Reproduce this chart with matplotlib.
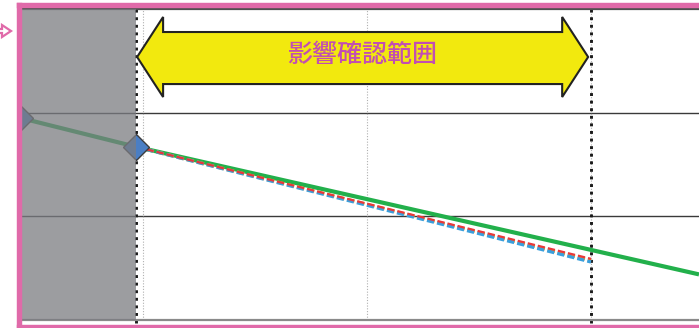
import matplotlib
matplotlib.use("Agg")
import matplotlib.pyplot as plt
from matplotlib.patches import Polygon
from matplotlib.lines import Line2D

plt.rcParams['font.family'] = ['Noto Sans CJK JP', 'DejaVu Sans']

# Timeline markers (x units)
x_left = 4.5
x_now = 9.7
x_end = 30.0
x_right = 34.82

# Baseline trend: two measured points, then the projection
base_x = [4.5, 9.7, 34.82]
base_y = [1.95, 1.67, 0.44]

# Scenario projections over the checked range
case_x = [9.7, 30.0]
case_red = [1.67, 0.59]
case_orange = [1.67, 0.575]
case_blue = [1.67, 0.56]

grid_x = [10, 20, 30]
grid_y = [1, 2]
range_label = "影響確認範囲"

W, H = 699, 328
fig = plt.figure(figsize=(W / 100, H / 100), dpi=100)
fig.patch.set_facecolor("white")

ax = fig.add_axes([20 / W, (H - 320) / H, (W - 20) / W, (320 - 9) / H])
ax.set_xlim(x_left, x_right)
ax.set_ylim(0, 3)
ax.set_xticks([])
ax.set_yticks([])
for side in ("left", "right"):
    ax.spines[side].set_visible(False)
ax.spines["top"].set_color("#505050")
ax.spines["top"].set_linewidth(1.6)
ax.spines["bottom"].set_color("#8a8a8a")
ax.spines["bottom"].set_linewidth(1.6)

# grid
for gy in grid_y:
    ax.axhline(gy, color="#3a3a3a", lw=1.0, zorder=1)
for gx in grid_x:
    ax.axvline(gx, color="#b0b0b0", lw=0.8, ls=(0, (1, 1.5)), zorder=1)

# range boundaries (under the data marks)
for bx in (x_now, x_end):
    ax.plot([bx, bx], [-0.03, 3.0], color="#1a1a1a", lw=2.1,
            ls=(0, (1, 1.6)), clip_on=False, zorder=2)

# projection lines
ax.plot(base_x, base_y, color="#22b04b", lw=3.0, solid_capstyle="butt", zorder=3)
ax.plot(case_x, case_orange, color="#f3a51c", lw=2.4, ls=(3.0, (2.2, 0.9)), zorder=3.1)
ax.plot(case_x, case_blue, color="#3a9fdc", lw=2.4, ls=(0, (2.2, 0.9)), zorder=3.2)
ax.plot(case_x, case_red, color="#e8383a", lw=1.6, ls=(0, (3.3, 1.35)), zorder=3.3)
ax.plot(base_x[:2], base_y[:2], ls="none", marker="D", ms=13,
        mfc="#4a7ec4", mec="#3c3c3c", mew=1.0, zorder=3.5)

# past period shading
ax.axvspan(x_left, x_now, color="#7b7c81", alpha=0.75, lw=0, zorder=4)

# double-headed range arrow
tip_y, body_top, body_bot, head_top, head_bot = 2.537, 2.778, 2.276, 2.923, 2.151
head_len = 1.16
xa, xb = x_now + 0.03, x_end - 0.13
arrow = Polygon([
    (xa, tip_y), (xa + head_len, head_top), (xa + head_len, body_top),
    (xb - head_len, body_top), (xb - head_len, head_top), (xb, tip_y),
    (xb - head_len, head_bot), (xb - head_len, body_bot),
    (xa + head_len, body_bot), (xa + head_len, head_bot)],
    closed=True, facecolor="#f2e90e", edgecolor="#222222", lw=1.5,
    joinstyle="miter", zorder=6)
ax.add_patch(arrow)
ax.text((xa + xb) / 2, tip_y + 0.02, range_label, color="#c24fb2",
        fontsize=18, fontweight="medium", ha="center", va="center", zorder=7)

# outer pink frame
pink = "#e06aa9"
fx = lambda p: p / W
fy = lambda p: 1 - p / H
for xs, ys in (([18.5, 18.5], [4.5, 326.5]),
               ([18.5, W + 5], [4.5, 4.5]),
               ([18.5, W + 5], [326.5, 326.5])):
    fig.add_artist(Line2D([fx(v) for v in xs], [fy(v) for v in ys], color=pink,
                          lw=3.9, solid_capstyle="projecting", zorder=10))

# connector tip on the left edge
tip = Polygon([(fx(-2), fy(29)), (fx(2), fy(29)), (fx(2), fy(25)),
               (fx(11), fy(31)), (fx(2), fy(37)), (fx(2), fy(33)),
               (fx(-2), fy(33))], closed=True, facecolor="white",
              edgecolor=pink, lw=1.6, transform=fig.transFigure, zorder=10)
fig.add_artist(tip)

fig.savefig("out.png", dpi=100)
